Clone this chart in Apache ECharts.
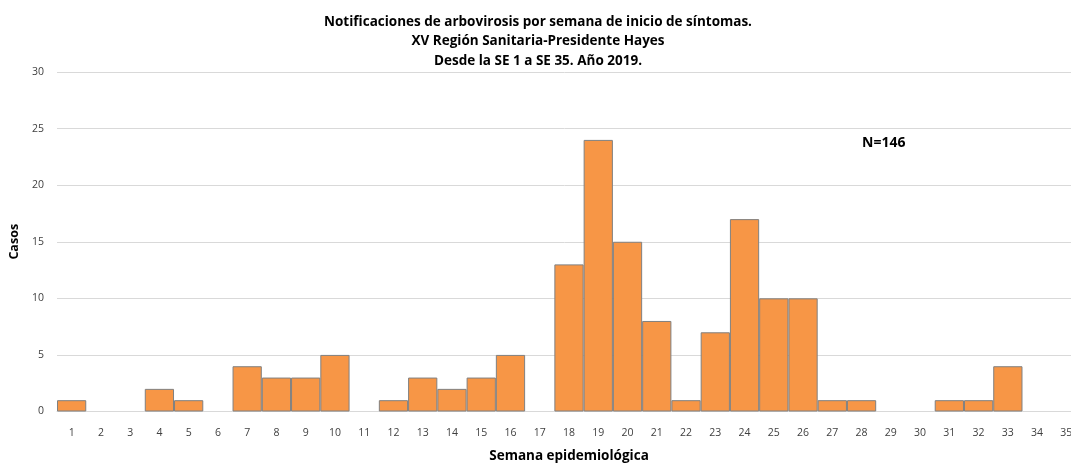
<!DOCTYPE html>
<html><head><meta charset="utf-8">
<script src="https://cdn.jsdelivr.net/npm/echarts@6/dist/echarts.min.js"></script>
<style>html,body{margin:0;padding:0;background:#fff}#c{width:1071px;height:464px}</style>
</head><body><div id="c"></div>
<script>
const categories = ['1','2','3','4','5','6','7','8','9','10','11','12','13','14','15','16','17','18','19','20','21','22','23','24','25','26','27','28','29','30','31','32','33','34','35'];
const casos = [1,0,0,2,1,0,4,3,3,5,0,1,3,2,3,5,0,13,24,15,8,1,7,17,10,10,1,1,0,0,1,1,4,0,0];
const titleLines = ['Notificaciones de arbovirosis por semana de inicio de síntomas.','XV Región Sanitaria-Presidente Hayes','Desde la SE 1 a SE 35. Año 2019.'];
const annotation = 'N=146';
const font = '"Open Sans", "Noto Sans", sans-serif';
const chart = echarts.init(document.getElementById('c'));
chart.setOption({
  animation:false,
  title:{text:titleLines.join('\n'),left:533,textAlign:'center',top:7,
    textStyle:{fontFamily:font,fontSize:13.5,fontWeight:'bold',color:'#000',lineHeight:19.5}},
  grid:{left:57,right:-10,top:72,bottom:52.5,outerBoundsMode:'none',containLabel:false},
  xAxis:{type:'category',data:categories,name:'Semana epidemiológica',nameLocation:'middle',nameGap:38,
    nameTextStyle:{fontFamily:font,fontSize:13.5,fontWeight:'bold',color:'#000'},
    axisLine:{lineStyle:{color:'#d9d9d9'}},axisTick:{show:false},
    axisLabel:{fontFamily:font,fontSize:10.5,color:'#404040',margin:16,interval:0}},
  yAxis:{type:'value',min:0,max:30,interval:5,name:'Casos',nameLocation:'middle',nameGap:36,
    nameTextStyle:{fontFamily:font,fontSize:12.5,fontWeight:'bold',color:'#000'},
    axisLine:{show:false},axisTick:{show:false},
    axisLabel:{fontFamily:font,fontSize:10.5,color:'#404040',margin:13},
    splitLine:{lineStyle:{color:'#d9d9d9'}}},
  series:[{type:'bar',data:casos.map(v => v === 0 ? null : v),barCategoryGap:'0%',
    itemStyle:{color:'#F79646',borderColor:'#808080',borderWidth:1}}],
  graphic:[{type:'text',left:862,top:136,style:{text:annotation,fontFamily:font,fontSize:14,fontWeight:'bold',fill:'#000'}}]
});
</script></body></html>
